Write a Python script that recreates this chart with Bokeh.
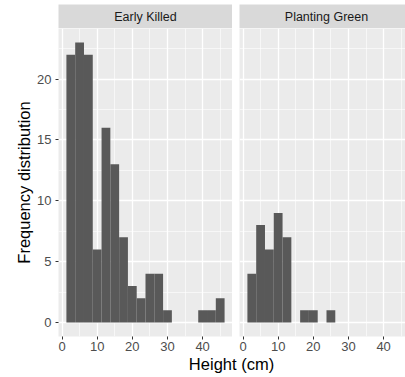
from bokeh.plotting import figure
from bokeh.layouts import column, row
from bokeh.models import FixedTicker, Grid, Label
from bokeh.embed import file_html
from bokeh.resources import INLINE

# ---- data ----
panels = ["Early Killed", "Planting Green"]
bin_edges = [1.25, 3.75, 6.25, 8.75, 11.25, 13.75, 16.25, 18.75, 21.25, 23.75,
             26.25, 28.75, 31.25, 33.75, 36.25, 38.75, 41.25, 43.75, 46.25]
early_killed = [22, 23, 22, 6, 16, 13, 7, 3, 2, 4, 4, 1, 0, 0, 0, 1, 1, 2]
planting_green = [4, 8, 6, 9, 7, 0, 1, 1, 0, 1, 0, 0, 0, 0, 0, 0, 0, 0]
x_ticks = [0, 10, 20, 30, 40]
x_minor = [5, 15, 25, 35, 45]
y_ticks = [0, 5, 10, 15, 20]
y_minor = [2.5, 7.5, 12.5, 17.5, 22.5]
x_label = "Height (cm)"
y_label = "Frequency distribution"

FONT = "Liberation Sans"
PANEL_BG = "#EBEBEB"
STRIP_BG = "#D9D9D9"
BAR = "#595959"

# ggplot-style expanded ranges
x0, x1 = -1.0, 48.5
y0, y1 = -1.15, 24.15

LEFT_W = 58
FRAME_W = 174
GAP = 7
RIGHT_FRAME_W = 405 - LEFT_W - FRAME_W - GAP  # cropped right panel
x1_right = x0 + (x1 - x0) * RIGHT_FRAME_W / FRAME_W

STRIP_H = 24
TOP = 4
FRAME_H = 308
BOTTOM = 20
TITLE_H = 377 - TOP - STRIP_H - FRAME_H - BOTTOM


def style_fig(p):
    p.background_fill_color = PANEL_BG
    p.border_fill_color = "white"
    p.outline_line_color = None


def make_panel(counts, xr, left_border, with_y):
    p = figure(width=left_border + (FRAME_W if with_y else RIGHT_FRAME_W),
               height=FRAME_H + BOTTOM,
               x_range=xr, y_range=(y0, y1),
               output_backend="svg", toolbar_location=None,
               min_border_left=left_border, min_border_right=0,
               min_border_top=0, min_border_bottom=BOTTOM,
               y_axis_location="left" if with_y else None,
               tools="")
    style_fig(p)
    p.grid.visible = False
    xt = FixedTicker(ticks=x_ticks, minor_ticks=x_minor)
    yt = FixedTicker(ticks=y_ticks, minor_ticks=y_minor)
    for dim, t in ((0, xt), (1, yt)):
        g = Grid(dimension=dim, ticker=t,
                 grid_line_color="white", grid_line_width=1.3,
                 minor_grid_line_color="white", minor_grid_line_width=0.6)
        p.add_layout(g)
    ax = p.xaxis[0]
    ax.ticker = xt
    ax.axis_line_color = None
    ax.major_tick_out = 3
    ax.major_tick_in = 0
    ax.minor_tick_out = 0
    ax.minor_tick_in = 0
    ax.major_tick_line_color = "#333333"
    ax.major_label_text_color = "#4D4D4D"
    ax.major_label_text_font = FONT
    ax.major_label_text_font_size = "13px"
    ax.major_label_standoff = 2
    if with_y:
        ay = p.yaxis[0]
        ay.ticker = yt
        ay.axis_line_color = None
        ay.major_tick_out = 3
        ay.major_tick_in = 0
        ay.minor_tick_out = 0
        ay.minor_tick_in = 0
        ay.major_tick_line_color = "#333333"
        ay.major_label_text_color = "#4D4D4D"
        ay.major_label_text_font = FONT
        ay.major_label_text_font_size = "13px"
        ay.major_label_standoff = 4
        ay.axis_label = y_label
        ay.axis_label_text_font = FONT
        ay.axis_label_text_font_size = "16.5px"
        ay.axis_label_text_font_style = "normal"
        ay.axis_label_text_color = "black"
        ay.axis_label_standoff = 1
    p.quad(left=bin_edges[:-1], right=bin_edges[1:], top=counts, bottom=0,
           fill_color=BAR, line_color=None)
    return p


def make_strip(text, xr, left_border, frame_w):
    s = figure(width=left_border + frame_w, height=TOP + STRIP_H,
               x_range=xr, y_range=(0, 1),
               output_backend="svg", toolbar_location=None, tools="",
               x_axis_location=None, y_axis_location=None,
               min_border_left=left_border, min_border_right=0,
               min_border_top=TOP, min_border_bottom=0)
    s.background_fill_color = STRIP_BG
    s.border_fill_color = "white"
    s.outline_line_color = None
    s.grid.visible = False
    s.add_layout(Label(x=(x0 + x1) / 2, y=0.5, text=text,
                       text_align="center", text_baseline="middle",
                       text_font=FONT, text_font_size="12.5px",
                       text_color="#1A1A1A"))
    return s


p1 = make_panel(early_killed, (x0, x1), LEFT_W, True)
p2 = make_panel(planting_green, (x0, x1_right), GAP, False)
s1 = make_strip(panels[0], (x0, x1), LEFT_W, FRAME_W)
s2 = make_strip(panels[1], (x0, x1_right), GAP, RIGHT_FRAME_W)

t = figure(width=405, height=TITLE_H, x_range=(0, 1), y_range=(0, 1),
           output_backend="svg", toolbar_location=None, tools="",
           x_axis_location=None, y_axis_location=None,
           min_border=0)
t.background_fill_color = "white"
t.border_fill_color = "white"
t.outline_line_color = None
t.grid.visible = False
t.add_layout(Label(x=231, y=TITLE_H - 7, x_units="screen", y_units="screen",
                   text=x_label, text_align="center", text_baseline="middle",
                   text_font=FONT, text_font_size="16.5px", text_color="black"))

layout = column(row(s1, s2), row(p1, p2), t)
open("out.html", "w").write(file_html(layout, INLINE))
